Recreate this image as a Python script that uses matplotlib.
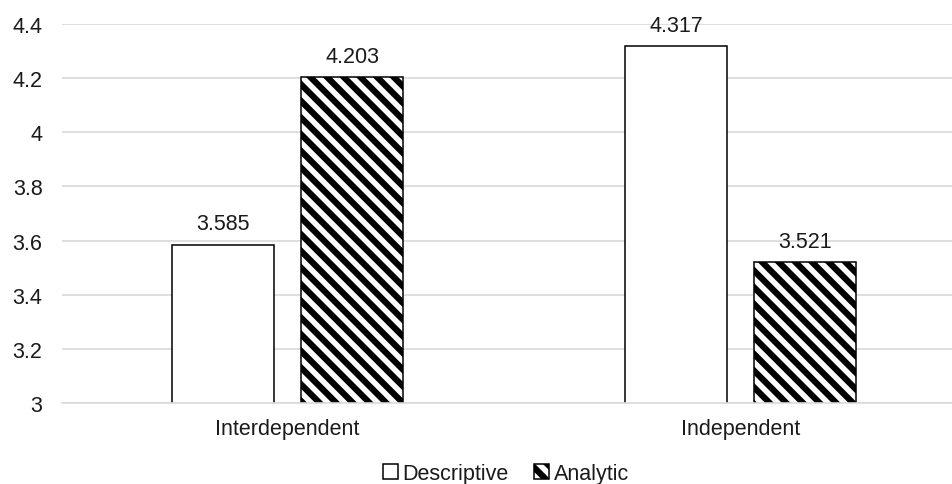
import numpy as np
import matplotlib.pyplot as plt

# data
categories = ['Interdependent', 'Independent']
descriptive = [3.585, 4.317]
analytic = [4.203, 3.521]
series_names = ['Descriptive', 'Analytic']
yticks = [3, 3.2, 3.4, 3.6, 3.8, 4, 4.2, 4.4]

# plot settings
plt.rcParams['font.family'] = ['Liberation Sans', 'DejaVu Sans']
plt.rcParams['hatch.linewidth'] = 4.5
fs = 15.5
bw = 0.225  # bar width
off = 0.1424  # bar offset from category centre

fig = plt.figure(figsize=(9.53, 4.85), dpi=100)
ax = fig.add_axes([0.0651, 0.167, 0.9349, 0.7815])

x = np.arange(len(categories))
b1 = ax.bar(x - off, descriptive, bw, color='white', edgecolor='black',
            linewidth=1.1, label=series_names[0], zorder=3)
b2 = ax.bar(x + off, analytic, bw, color='white', edgecolor='black', hatch='\\\\',
            linewidth=1.1, label=series_names[1], zorder=3)

# value labels above the bars
for bars in (b1, b2):
    for r in bars:
        h = r.get_height()
        ax.annotate(f'{h:.3f}', (r.get_x() + r.get_width() / 2, h), xytext=(0, 7.5),
                    textcoords='offset points', ha='center', va='bottom', fontsize=fs,
                    color='#1a1a1a')

ax.set_ylim(3, 4.4)
ax.set_xlim(-0.498, 1.469)
ax.set_yticks(yticks)
ax.set_yticklabels([f'{t:g}' for t in yticks])
ax.set_xticks(x)
ax.set_xticklabels(categories)
ax.tick_params(axis='both', length=0, labelsize=fs, colors='#1a1a1a')
ax.tick_params(axis='y', pad=14)
ax.tick_params(axis='x', pad=11)

# grid and spines
ax.grid(axis='y', color='#d9d9d9', linewidth=1.2, zorder=0)
for s in ['top', 'right', 'left']:
    ax.spines[s].set_visible(False)
ax.spines['bottom'].set_color('#d9d9d9')
ax.spines['bottom'].set_linewidth(1.2)
ax.spines['bottom'].set_zorder(4)

# legend
leg = ax.legend(loc='center', bbox_to_anchor=(0.498, -0.185), ncol=2, frameon=False,
                fontsize=fs, handlelength=0.7, handleheight=0.7, handletextpad=0.2,
                columnspacing=1.2)
for t in leg.get_texts():
    t.set_color('#1a1a1a')

fig.savefig('out.png', dpi=100)
